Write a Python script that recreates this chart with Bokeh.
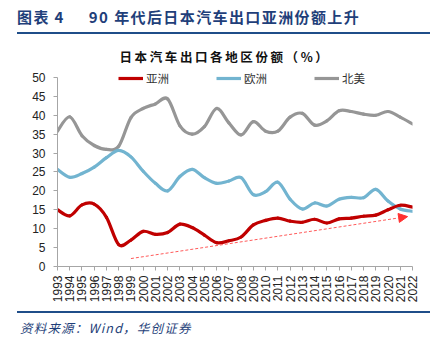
import math
from bokeh.plotting import figure
from bokeh.models import (Range1d, FixedTicker, Legend, LegendItem, Arrow, NormalHead,
                          ColumnDataSource, Div)
from bokeh.layouts import column
from bokeh.embed import file_html
from bokeh.resources import INLINE

years = list(range(1993, 2023))
asia = [15.0, 13.4, 16.3, 16.5, 13.0, 5.8, 7.0, 9.3, 8.5, 9.0, 11.2, 10.3, 8.3, 6.3, 6.8, 7.8,
        11.0, 12.2, 12.8, 12.0, 11.7, 12.5, 11.5, 12.6, 12.8, 13.3, 13.6, 15.0, 16.2, 15.7]
europe = [25.7, 23.6, 24.6, 26.3, 28.8, 30.7, 29.0, 25.2, 22.0, 20.0, 23.8, 25.7, 23.5, 22.0, 22.6, 23.5,
          19.0, 19.8, 22.3, 17.8, 15.2, 16.8, 16.0, 17.8, 18.3, 18.2, 20.4, 17.3, 15.2, 14.6]
namerica = [35.8, 39.6, 34.6, 32.0, 31.0, 31.8, 39.4, 41.8, 43.0, 44.3, 37.2, 35.0, 37.0, 41.8, 38.0, 34.8,
            38.3, 35.8, 35.8, 39.5, 40.5, 37.4, 38.5, 41.2, 41.0, 40.3, 40.0, 41.0, 39.5, 37.7]
series_names = ["亚洲", "欧洲", "北美"]
series_colors = ["#C00000", "#72B4D0", "#969696"]
trend_x = [1999.0, 2021.6]
trend_y = [2.1, 13.2]
y_ticks = list(range(0, 55, 5))

header_label = "图表 4"
header_text = "90 年代后日本汽车出口亚洲份额上升"
chart_title = "日本汽车出口各地区份额（%）"
source_text = "资料来源：Wind，华创证券"

W = 447
HEAD_H = 70          # header block (report title, rule, chart title)
FIG_TOP = HEAD_H
FRAME_TOP = 77       # canvas y of value 50
FRAME_BOT = 267      # canvas y of value 0
FIG_BOT = 305
FL, FR = 57, 412

px_per_unit = (FRAME_BOT - FRAME_TOP) / 50.0
y_top = 50 + (FRAME_TOP - FIG_TOP) / px_per_unit

header = Div(width=W, height=HEAD_H, margin=0, text=f"""
<div style="position:relative;width:{W}px;height:{HEAD_H}px;margin:0;padding:0;">
  <div style="position:absolute;left:17px;top:7px;white-space:nowrap;font-family:'Noto Sans CJK SC';
       font-weight:bold;font-size:15px;letter-spacing:1.4px;color:#1F3F7A;line-height:20px;">
    {header_label}<span style="display:inline-block;width:24px;"></span>{header_text}</div>
  <div style="position:absolute;left:17px;top:32px;width:413px;height:2px;background:#1F4E89;"></div>
  <div style="position:absolute;left:3px;top:48px;width:{W - 3}px;text-align:center;white-space:nowrap;
       font-family:'Noto Sans CJK SC';font-weight:bold;font-size:12.5px;letter-spacing:2.6px;
       color:#111111;line-height:18px;">{chart_title}</div>
</div>""")

p = figure(width=W, height=FIG_BOT - FIG_TOP, output_backend="svg", toolbar_location=None,
           x_range=Range1d(1993, 2022), y_range=Range1d(0, y_top),
           min_border_left=FL, min_border_right=W - FR, min_border_top=0,
           min_border_bottom=FIG_BOT - FRAME_BOT, margin=0)
p.outline_line_color = None
p.grid.visible = False
p.background_fill_color = "white"
p.border_fill_color = "white"

for ax in (p.xaxis[0], p.yaxis[0]):
    ax.axis_line_color = "#A6A6A6"
    ax.major_tick_line_color = "#A6A6A6"
    ax.minor_tick_line_color = None
    ax.major_tick_in = 0
    ax.major_tick_out = 4
    ax.major_label_text_font = "Liberation Sans"
    ax.major_label_text_font_size = "12px"
    ax.major_label_text_color = "#222222"
p.yaxis[0].ticker = FixedTicker(ticks=y_ticks)
p.yaxis[0].bounds = (0, 50)
p.yaxis[0].major_label_standoff = 8
p.xaxis[0].ticker = FixedTicker(ticks=years)
p.xaxis[0].major_label_orientation = math.pi / 2
p.xaxis[0].major_label_standoff = 5


def smooth(xs, ys):
    n = len(xs)
    d = dict(x0=[], y0=[], x1=[], y1=[], cx0=[], cy0=[], cx1=[], cy1=[])
    for i in range(n - 1):
        im = max(i - 1, 0)
        ip2 = min(i + 2, n - 1)
        d["x0"].append(xs[i]); d["y0"].append(ys[i])
        d["x1"].append(xs[i + 1]); d["y1"].append(ys[i + 1])
        d["cx0"].append(xs[i] + (xs[i + 1] - xs[im]) / 6)
        d["cy0"].append(ys[i] + (ys[i + 1] - ys[im]) / 6)
        d["cx1"].append(xs[i + 1] - (xs[ip2] - xs[i]) / 6)
        d["cy1"].append(ys[i + 1] - (ys[ip2] - ys[i]) / 6)
    return ColumnDataSource(d)


data = {"亚洲": asia, "欧洲": europe, "北美": namerica}
leg_r = {}
for name, col in reversed(list(zip(series_names, series_colors))):
    vals = data[name]
    p.bezier(x0="x0", y0="y0", x1="x1", y1="y1", cx0="cx0", cy0="cy0", cx1="cx1", cy1="cy1",
             source=smooth(years, vals), line_color=col, line_width=3.2, line_cap="round")
    leg_r[name] = p.line(years, vals, line_color=col, line_width=3.2, visible=False)

p.add_layout(Arrow(x_start=trend_x[0], y_start=trend_y[0], x_end=trend_x[1], y_end=trend_y[1],
                   line_color="#FF5A5A", line_width=1, line_dash="3 2",
                   end=NormalHead(size=9, fill_color="#FF3030", line_color="#FF3030")))

frame_h = FRAME_BOT - FIG_TOP
legend = Legend(items=[LegendItem(label=n, renderers=[leg_r[n]]) for n in series_names],
                orientation="horizontal", location=(118 - FL, frame_h - (87 - FIG_TOP)),
                glyph_width=25, glyph_height=12, label_standoff=3, label_width=60, spacing=10,
                padding=0, margin=0, border_line_color=None, background_fill_alpha=0,
                label_text_font="Noto Sans CJK SC", label_text_font_size="11.5px",
                label_text_color="#333333", label_height=12)
p.add_layout(legend)

footer = Div(width=W, height=339 - FIG_BOT, margin=0, text=f"""
<div style="position:relative;width:{W}px;height:{339 - FIG_BOT}px;margin:0;padding:0;overflow:hidden;">
  <div style="position:absolute;left:17px;top:{312 - FIG_BOT - 1}px;width:413px;height:2px;background:#1F4E89;"></div>
  <div style="position:absolute;left:20px;top:{335 - FIG_BOT - 14}px;white-space:nowrap;font-family:'Noto Sans CJK SC';
       font-style:italic;font-size:12.5px;letter-spacing:1.2px;color:#1F3F7A;line-height:14px;">{source_text}</div>
</div>""")

layout = column(header, p, footer, spacing=0, margin=0)
open("out.html", "w").write(file_html(layout, INLINE))
